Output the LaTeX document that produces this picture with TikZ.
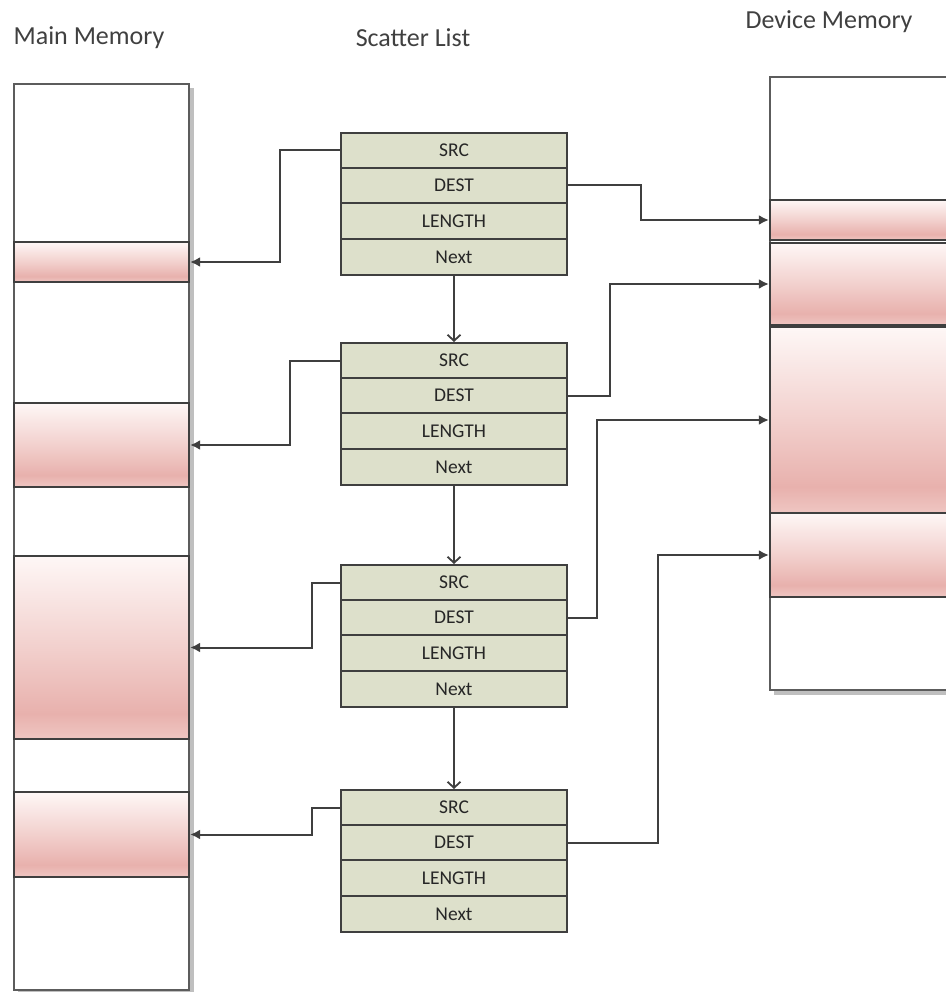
\documentclass[tikz,border=0pt]{standalone}
\usepackage{fontspec}
\setmainfont{Carlito}
\usetikzlibrary{arrows.meta}

\definecolor{edge}{HTML}{3F3F3F}
\definecolor{listfill}{HTML}{DDE0CB}
\definecolor{pinkdark}{HTML}{E8B1AD}
\definecolor{pinkmid}{HTML}{F2D0CD}
\definecolor{pinklow}{HTML}{EFC6C2}
\definecolor{pinktop}{HTML}{FEF7F6}
\definecolor{titlegray}{HTML}{404040}

% band gradient: pale at the top, deepest near the bottom
\pgfdeclareverticalshading{pinkband}{100bp}{%
  color(0bp)=(pinklow); color(25bp)=(pinklow); color(32bp)=(pinkdark);
  color(50bp)=(pinkmid); color(75bp)=(pinktop); color(100bp)=(pinktop)}

\tikzset{
  title/.style={font=\fontsize{26}{28}\selectfont, text=titlegray, inner sep=0pt},
  column/.style={draw=edge!85, line width=1.8pt, fill=white},
  colshadow/.style={fill=black, opacity=0.25},
  band/.style={draw=edge, line width=2.2pt, shading=pinkband, inner sep=0pt},
  field/.style={draw=edge, line width=2pt, fill=listfill, minimum width=226pt,
    inner sep=0pt, font=\fontsize{19.5}{21}\selectfont, text=black!85},
  conn/.style={draw=edge, line width=2pt, -{Latex[length=10pt,width=10pt]}},
  link/.style={draw=edge, line width=1.8pt, -{Straight Barb[length=6pt,width=13pt]}},
}

\begin{document}
\begin{tikzpicture}[x=1pt,y=-1pt]
\useasboundingbox (0,0) rectangle (945,992);

% column titles
\node[title] (tmain) at (89,38) {Main Memory};
\node[title] (tlist) at (413,38) {Scatter List};
\node[title] (tdev) at (829,22) {Device Memory};

% main memory column
\fill[colshadow] (18,88) rectangle (194,994);
\path[column] (14,84) rectangle (189,990);
\node[band, minimum width=175pt, minimum height=40pt] (m1) at (101.5,262) {};
\node[band, minimum width=175pt, minimum height=84pt] (m2) at (101.5,445) {};
\node[band, minimum width=175pt, minimum height=183pt] (m3) at (101.5,647.5) {};
\node[band, minimum width=175pt, minimum height=85pt] (m4) at (101.5,834.5) {};

% device memory column
\fill[colshadow] (774,81) rectangle (960,695);
\path[column] (770,77) rectangle (960,690);
\node[band, minimum width=190pt, minimum height=40pt] (d1) at (865,220) {};
\node[band, minimum width=190pt, minimum height=82pt] (d2) at (865,284) {};
\node[band, minimum width=190pt, minimum height=186pt] (d3) at (865,420) {};
\node[band, minimum width=190pt, minimum height=84pt] (d4) at (865,555) {};

% scatter list entries
\foreach \i/\top in {1/133, 2/343, 3/565, 4/790} {
  \node[field, minimum height=35pt] (s\i src) at (454,\top+17.5) {SRC};
  \node[field, minimum height=35pt] (s\i dest) at (454,\top+52.5) {DEST};
  \node[field, minimum height=36pt] (s\i len) at (454,\top+88) {LENGTH};
  \node[field, minimum height=36pt] (s\i next) at (454,\top+124) {Next};
}

% next pointers
\draw[link] (s1next.south) -- (s2src.north);
\draw[link] (s2next.south) -- (s3src.north);
\draw[link] (s3next.south) -- (s4src.north);

% source pointers into main memory
\draw[conn] (s1src.west) -- ++(-60,0) |- (m1.east);
\draw[conn] (s2src.west) -- ++(-50,0) |- (m2.east);
\draw[conn] (s3src.west) -- ++(-28,0) |- (m3.east);
\draw[conn] (s4src.west) -- ++(-28,0) |- (m4.east);

% destination pointers into device memory
\draw[conn] (s1dest.east) -- ++(73,0) |- (d1.west);
\draw[conn] (s2dest.east) -- ++(42,0) |- (d2.west);
\draw[conn] (s3dest.east) -- ++(29,0) |- (d3.west);
\draw[conn] (s4dest.east) -- ++(90,0) |- (d4.west);
\end{tikzpicture}
\end{document}
